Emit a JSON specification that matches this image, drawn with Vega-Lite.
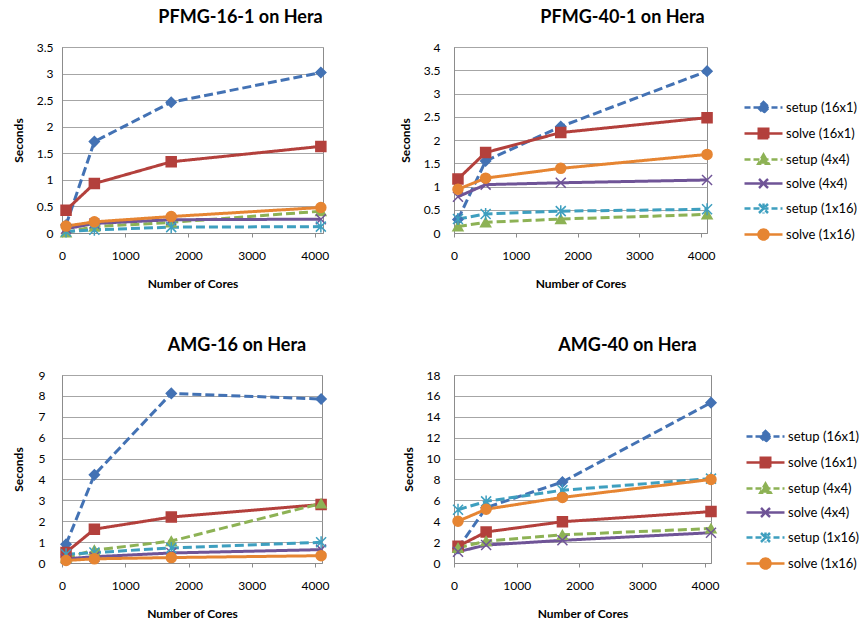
{
  "$schema": "https://vega.github.io/schema/vega-lite/v6.json",
  "background": "white",
  "padding": {"left": 11, "top": 8, "right": 0, "bottom": 2},
  "datasets": {
    "pfmg16": [
      {"cores": 64, "series": "setup (16x1)", "sec": 0.15},
      {"cores": 512, "series": "setup (16x1)", "sec": 1.72},
      {"cores": 1728, "series": "setup (16x1)", "sec": 2.46},
      {"cores": 4096, "series": "setup (16x1)", "sec": 3.02},
      {"cores": 64, "series": "solve (16x1)", "sec": 0.43},
      {"cores": 512, "series": "solve (16x1)", "sec": 0.93},
      {"cores": 1728, "series": "solve (16x1)", "sec": 1.34},
      {"cores": 4096, "series": "solve (16x1)", "sec": 1.63},
      {"cores": 64, "series": "setup (4x4)", "sec": 0.01},
      {"cores": 512, "series": "setup (4x4)", "sec": 0.12},
      {"cores": 1728, "series": "setup (4x4)", "sec": 0.2},
      {"cores": 4096, "series": "setup (4x4)", "sec": 0.41},
      {"cores": 64, "series": "solve (4x4)", "sec": 0.08},
      {"cores": 512, "series": "solve (4x4)", "sec": 0.18},
      {"cores": 1728, "series": "solve (4x4)", "sec": 0.25},
      {"cores": 4096, "series": "solve (4x4)", "sec": 0.26},
      {"cores": 64, "series": "setup (1x16)", "sec": 0.03},
      {"cores": 512, "series": "setup (1x16)", "sec": 0.06},
      {"cores": 1728, "series": "setup (1x16)", "sec": 0.11},
      {"cores": 4096, "series": "setup (1x16)", "sec": 0.12},
      {"cores": 64, "series": "solve (1x16)", "sec": 0.13},
      {"cores": 512, "series": "solve (1x16)", "sec": 0.21},
      {"cores": 1728, "series": "solve (1x16)", "sec": 0.31},
      {"cores": 4096, "series": "solve (1x16)", "sec": 0.48}
    ],
    "pfmg40": [
      {"cores": 64, "series": "setup (16x1)", "sec": 0.29},
      {"cores": 512, "series": "setup (16x1)", "sec": 1.55},
      {"cores": 1728, "series": "setup (16x1)", "sec": 2.29},
      {"cores": 4096, "series": "setup (16x1)", "sec": 3.48},
      {"cores": 64, "series": "solve (16x1)", "sec": 1.16},
      {"cores": 512, "series": "solve (16x1)", "sec": 1.73},
      {"cores": 1728, "series": "solve (16x1)", "sec": 2.16},
      {"cores": 4096, "series": "solve (16x1)", "sec": 2.48},
      {"cores": 64, "series": "setup (4x4)", "sec": 0.14},
      {"cores": 512, "series": "setup (4x4)", "sec": 0.23},
      {"cores": 1728, "series": "setup (4x4)", "sec": 0.3},
      {"cores": 4096, "series": "setup (4x4)", "sec": 0.4},
      {"cores": 64, "series": "solve (4x4)", "sec": 0.78},
      {"cores": 512, "series": "solve (4x4)", "sec": 1.04},
      {"cores": 1728, "series": "solve (4x4)", "sec": 1.08},
      {"cores": 4096, "series": "solve (4x4)", "sec": 1.14},
      {"cores": 64, "series": "setup (1x16)", "sec": 0.3},
      {"cores": 512, "series": "setup (1x16)", "sec": 0.41},
      {"cores": 1728, "series": "setup (1x16)", "sec": 0.47},
      {"cores": 4096, "series": "setup (1x16)", "sec": 0.51},
      {"cores": 64, "series": "solve (1x16)", "sec": 0.94},
      {"cores": 512, "series": "solve (1x16)", "sec": 1.18},
      {"cores": 1728, "series": "solve (1x16)", "sec": 1.39},
      {"cores": 4096, "series": "solve (1x16)", "sec": 1.69}
    ],
    "amg16": [
      {"cores": 64, "series": "setup (16x1)", "sec": 0.9},
      {"cores": 512, "series": "setup (16x1)", "sec": 4.22},
      {"cores": 1728, "series": "setup (16x1)", "sec": 8.12},
      {"cores": 4096, "series": "setup (16x1)", "sec": 7.85},
      {"cores": 64, "series": "solve (16x1)", "sec": 0.5},
      {"cores": 512, "series": "solve (16x1)", "sec": 1.62},
      {"cores": 1728, "series": "solve (16x1)", "sec": 2.2},
      {"cores": 4096, "series": "solve (16x1)", "sec": 2.8},
      {"cores": 64, "series": "setup (4x4)", "sec": 0.25},
      {"cores": 512, "series": "setup (4x4)", "sec": 0.62},
      {"cores": 1728, "series": "setup (4x4)", "sec": 1.05},
      {"cores": 4096, "series": "setup (4x4)", "sec": 2.85},
      {"cores": 64, "series": "solve (4x4)", "sec": 0.2},
      {"cores": 512, "series": "solve (4x4)", "sec": 0.3},
      {"cores": 1728, "series": "solve (4x4)", "sec": 0.48},
      {"cores": 4096, "series": "solve (4x4)", "sec": 0.64},
      {"cores": 64, "series": "setup (1x16)", "sec": 0.42},
      {"cores": 512, "series": "setup (1x16)", "sec": 0.5},
      {"cores": 1728, "series": "setup (1x16)", "sec": 0.72},
      {"cores": 4096, "series": "setup (1x16)", "sec": 0.99},
      {"cores": 64, "series": "solve (1x16)", "sec": 0.12},
      {"cores": 512, "series": "solve (1x16)", "sec": 0.2},
      {"cores": 1728, "series": "solve (1x16)", "sec": 0.26},
      {"cores": 4096, "series": "solve (1x16)", "sec": 0.35}
    ],
    "amg40": [
      {"cores": 64, "series": "setup (16x1)", "sec": 1.4},
      {"cores": 512, "series": "setup (16x1)", "sec": 5.3},
      {"cores": 1728, "series": "setup (16x1)", "sec": 7.76},
      {"cores": 4096, "series": "setup (16x1)", "sec": 15.35},
      {"cores": 64, "series": "solve (16x1)", "sec": 1.6},
      {"cores": 512, "series": "solve (16x1)", "sec": 2.97},
      {"cores": 1728, "series": "solve (16x1)", "sec": 3.95},
      {"cores": 4096, "series": "solve (16x1)", "sec": 4.92},
      {"cores": 64, "series": "setup (4x4)", "sec": 1.45},
      {"cores": 512, "series": "setup (4x4)", "sec": 2.1},
      {"cores": 1728, "series": "setup (4x4)", "sec": 2.7},
      {"cores": 4096, "series": "setup (4x4)", "sec": 3.3},
      {"cores": 64, "series": "solve (4x4)", "sec": 1.08},
      {"cores": 512, "series": "solve (4x4)", "sec": 1.72},
      {"cores": 1728, "series": "solve (4x4)", "sec": 2.17},
      {"cores": 4096, "series": "solve (4x4)", "sec": 2.9},
      {"cores": 64, "series": "setup (1x16)", "sec": 5.1},
      {"cores": 512, "series": "setup (1x16)", "sec": 5.9},
      {"cores": 1728, "series": "setup (1x16)", "sec": 6.97},
      {"cores": 4096, "series": "setup (1x16)", "sec": 8.08},
      {"cores": 64, "series": "solve (1x16)", "sec": 4.0},
      {"cores": 512, "series": "solve (1x16)", "sec": 5.15},
      {"cores": 1728, "series": "solve (1x16)", "sec": 6.28},
      {"cores": 4096, "series": "solve (1x16)", "sec": 8.0}
    ]
  },
  "vconcat": [
    {
      "spacing": 68,
      "hconcat": [
        {
          "width": 261, "height": 186,
          "title": {"text": "PFMG-16-1 on Hera", "dx": 48, "offset": 14},
          "data": {"name": "pfmg16"},
          "resolve": {"scale": {"stroke": "independent", "fill": "independent", "shape": "independent", "strokeDash": "independent"}},
          "encoding": {
            "x": {"field": "cores", "type": "quantitative", "title": "Number of Cores", "scale": {"domain": [0, 4130], "nice": false}, "axis": {"values": [0, 1000, 2000, 3000, 4000], "format": "d"}},
            "y": {"field": "sec", "type": "quantitative", "title": "Seconds", "scale": {"domain": [0, 3.5], "nice": false}, "axis": {"values": [0, 0.5, 1, 1.5, 2, 2.5, 3, 3.5], "format": "~g", "labelPadding": 9, "titlePadding": 11}}
          },
          "layer": [
            {
              "mark": {"type": "line", "strokeWidth": 3},
              "encoding": {
                "stroke": {"field": "series", "type": "nominal", "legend": null, "scale": {"domain": ["setup (16x1)", "solve (16x1)", "setup (4x4)", "solve (4x4)", "setup (1x16)", "solve (1x16)"], "range": ["#4372B4", "#B3403C", "#8DB255", "#6F5497", "#3E9FBF", "#E68532"]}},
                "strokeDash": {"field": "series", "type": "nominal", "legend": null, "scale": {"domain": ["setup (16x1)", "solve (16x1)", "setup (4x4)", "solve (4x4)", "setup (1x16)", "solve (1x16)"], "range": [[9, 4], [1, 0], [9, 4], [1, 0], [9, 4], [1, 0]]}}
              }
            },
            {
              "mark": {"type": "point", "filled": true, "opacity": 1, "strokeWidth": 1.5, "size": 100},
              "encoding": {
                "fill": {"field": "series", "type": "nominal", "legend": null, "scale": {"domain": ["setup (16x1)", "solve (16x1)", "setup (4x4)", "solve (4x4)", "setup (1x16)", "solve (1x16)"], "range": ["#4372B4", "#B3403C", "#8DB255", "#6F5497", "#3E9FBF", "#E68532"]}},
                "stroke": {"field": "series", "type": "nominal", "legend": null, "scale": {"domain": ["setup (16x1)", "solve (16x1)", "setup (4x4)", "solve (4x4)", "setup (1x16)", "solve (1x16)"], "range": ["#4372B4", "#B3403C", "#8DB255", "#6F5497", "#3E9FBF", "#E68532"]}},
                "shape": {"field": "series", "type": "nominal", "legend": null, "scale": {"domain": ["setup (16x1)", "solve (16x1)", "setup (4x4)", "solve (4x4)", "setup (1x16)", "solve (1x16)"], "range": ["diamond", "square", "triangle-up", "M-1,-1L1,1M-1,1L1,-1", "M-1,-1L1,1M-1,1L1,-1M0,-1.2V1.2", "circle"]}}
              }
            }
          ]
        },
        {
          "width": 253, "height": 186,
          "title": {"text": "PFMG-40-1 on Hera", "dx": 42, "offset": 14},
          "data": {"name": "pfmg40"},
          "resolve": {"scale": {"stroke": "independent", "fill": "independent", "shape": "independent", "strokeDash": "independent"}},
          "encoding": {
            "x": {"field": "cores", "type": "quantitative", "title": "Number of Cores", "scale": {"domain": [0, 4095], "nice": false}, "axis": {"values": [0, 1000, 2000, 3000, 4000], "format": "d"}},
            "y": {"field": "sec", "type": "quantitative", "title": "Seconds", "scale": {"domain": [0, 4], "nice": false}, "axis": {"values": [0, 0.5, 1, 1.5, 2, 2.5, 3, 3.5, 4], "format": "~g", "labelPadding": 14, "titlePadding": 11}}
          },
          "layer": [
            {
              "mark": {"type": "line", "strokeWidth": 3},
              "encoding": {
                "stroke": {"field": "series", "type": "nominal", "legend": null, "scale": {"domain": ["setup (16x1)", "solve (16x1)", "setup (4x4)", "solve (4x4)", "setup (1x16)", "solve (1x16)"], "range": ["#4372B4", "#B3403C", "#8DB255", "#6F5497", "#3E9FBF", "#E68532"]}},
                "strokeDash": {"field": "series", "type": "nominal", "legend": null, "scale": {"domain": ["setup (16x1)", "solve (16x1)", "setup (4x4)", "solve (4x4)", "setup (1x16)", "solve (1x16)"], "range": [[9, 4], [1, 0], [9, 4], [1, 0], [9, 4], [1, 0]]}}
              }
            },
            {
              "mark": {"type": "point", "filled": true, "opacity": 1, "strokeWidth": 1.5, "size": 100},
              "encoding": {
                "fill": {"field": "series", "type": "nominal", "legend": null, "scale": {"domain": ["setup (16x1)", "solve (16x1)", "setup (4x4)", "solve (4x4)", "setup (1x16)", "solve (1x16)"], "range": ["#4372B4", "#B3403C", "#8DB255", "#6F5497", "#3E9FBF", "#E68532"]}},
                "stroke": {"field": "series", "type": "nominal", "legend": null, "scale": {"domain": ["setup (16x1)", "solve (16x1)", "setup (4x4)", "solve (4x4)", "setup (1x16)", "solve (1x16)"], "range": ["#4372B4", "#B3403C", "#8DB255", "#6F5497", "#3E9FBF", "#E68532"]}},
                "shape": {"field": "series", "type": "nominal", "legend": null, "scale": {"domain": ["setup (16x1)", "solve (16x1)", "setup (4x4)", "solve (4x4)", "setup (1x16)", "solve (1x16)"], "range": ["diamond", "square", "triangle-up", "M-1,-1L1,1M-1,1L1,-1", "M-1,-1L1,1M-1,1L1,-1M0,-1.2V1.2", "circle"]}}
              }
            },
            {
              "transform": [{"filter": "false"}],
              "mark": {"type": "point", "filled": true, "opacity": 1, "strokeWidth": 2.5},
              "encoding": {
                "fill": {"field": "series", "type": "nominal", "legend": {"orient": "none", "legendX": 303, "legendY": 54}, "scale": {"domain": ["setup (16x1)", "solve (16x1)", "setup (4x4)", "solve (4x4)", "setup (1x16)", "solve (1x16)"], "range": ["#4372B4", "#B3403C", "#8DB255", "#6F5497", "#3E9FBF", "#E68532"]}},
                "stroke": {"field": "series", "type": "nominal", "legend": {"orient": "none", "legendX": 303, "legendY": 54}, "scale": {"domain": ["setup (16x1)", "solve (16x1)", "setup (4x4)", "solve (4x4)", "setup (1x16)", "solve (1x16)"], "range": ["#4372B4", "#B3403C", "#8DB255", "#6F5497", "#3E9FBF", "#E68532"]}},
                "strokeDash": {"field": "series", "type": "nominal", "legend": {"orient": "none", "legendX": 303, "legendY": 54}, "scale": {"domain": ["setup (16x1)", "solve (16x1)", "setup (4x4)", "solve (4x4)", "setup (1x16)", "solve (1x16)"], "range": [[6, 3], [1, 0], [6, 3], [1, 0], [6, 3], [1, 0]]}},
                "shape": {"field": "series", "type": "nominal", "legend": {"orient": "none", "legendX": 303, "legendY": 54}, "scale": {"domain": ["setup (16x1)", "solve (16x1)", "setup (4x4)", "solve (4x4)", "setup (1x16)", "solve (1x16)"], "range": ["M-3.8,0H3.8M0,-1.1L1.1,0L0,1.1L-1.1,0Z", "M-3.8,0H3.8M-0.95,-0.95H0.95V0.95H-0.95Z", "M-3.8,0H3.8M0,-1L1.05,0.85H-1.05Z", "M-3.8,0H3.8M-0.9,-0.9L0.9,0.9M-0.9,0.9L0.9,-0.9", "M-3.8,0H3.8M-0.9,-0.9L0.9,0.9M-0.9,0.9L0.9,-0.9M0,-1V1", "M-3.8,0H3.8M1,0A1,1,0,1,1,-1,0A1,1,0,1,1,1,0Z"]}}
              }
            }
          ]
        }
      ]
    },
    {
      "spacing": 71,
      "hconcat": [
        {
          "width": 260, "height": 188,
          "title": {"text": "AMG-16 on Hera", "dx": 45, "offset": 14},
          "data": {"name": "amg16"},
          "resolve": {"scale": {"stroke": "independent", "fill": "independent", "shape": "independent", "strokeDash": "independent"}},
          "encoding": {
            "x": {"field": "cores", "type": "quantitative", "title": "Number of Cores", "scale": {"domain": [0, 4110], "nice": false}, "axis": {"values": [0, 1000, 2000, 3000, 4000], "format": "d"}},
            "y": {"field": "sec", "type": "quantitative", "title": "Seconds", "scale": {"domain": [0, 9], "nice": false}, "axis": {"values": [0, 1, 2, 3, 4, 5, 6, 7, 8, 9], "format": "~g", "labelPadding": 17, "titlePadding": 13}}
          },
          "layer": [
            {
              "mark": {"type": "line", "strokeWidth": 3},
              "encoding": {
                "stroke": {"field": "series", "type": "nominal", "legend": null, "scale": {"domain": ["setup (16x1)", "solve (16x1)", "setup (4x4)", "solve (4x4)", "setup (1x16)", "solve (1x16)"], "range": ["#4372B4", "#B3403C", "#8DB255", "#6F5497", "#3E9FBF", "#E68532"]}},
                "strokeDash": {"field": "series", "type": "nominal", "legend": null, "scale": {"domain": ["setup (16x1)", "solve (16x1)", "setup (4x4)", "solve (4x4)", "setup (1x16)", "solve (1x16)"], "range": [[9, 4], [1, 0], [9, 4], [1, 0], [9, 4], [1, 0]]}}
              }
            },
            {
              "mark": {"type": "point", "filled": true, "opacity": 1, "strokeWidth": 1.5, "size": 100},
              "encoding": {
                "fill": {"field": "series", "type": "nominal", "legend": null, "scale": {"domain": ["setup (16x1)", "solve (16x1)", "setup (4x4)", "solve (4x4)", "setup (1x16)", "solve (1x16)"], "range": ["#4372B4", "#B3403C", "#8DB255", "#6F5497", "#3E9FBF", "#E68532"]}},
                "stroke": {"field": "series", "type": "nominal", "legend": null, "scale": {"domain": ["setup (16x1)", "solve (16x1)", "setup (4x4)", "solve (4x4)", "setup (1x16)", "solve (1x16)"], "range": ["#4372B4", "#B3403C", "#8DB255", "#6F5497", "#3E9FBF", "#E68532"]}},
                "shape": {"field": "series", "type": "nominal", "legend": null, "scale": {"domain": ["setup (16x1)", "solve (16x1)", "setup (4x4)", "solve (4x4)", "setup (1x16)", "solve (1x16)"], "range": ["diamond", "square", "triangle-up", "M-1,-1L1,1M-1,1L1,-1", "M-1,-1L1,1M-1,1L1,-1M0,-1.2V1.2", "circle"]}}
              }
            }
          ]
        },
        {
          "width": 257, "height": 188,
          "title": {"text": "AMG-40 on Hera", "dx": 45, "offset": 14},
          "data": {"name": "amg40"},
          "resolve": {"scale": {"stroke": "independent", "fill": "independent", "shape": "independent", "strokeDash": "independent"}},
          "encoding": {
            "x": {"field": "cores", "type": "quantitative", "title": "Number of Cores", "scale": {"domain": [0, 4096], "nice": false}, "axis": {"values": [0, 1000, 2000, 3000, 4000], "format": "d"}},
            "y": {"field": "sec", "type": "quantitative", "title": "Seconds", "scale": {"domain": [0, 18], "nice": false}, "axis": {"values": [0, 2, 4, 6, 8, 10, 12, 14, 16, 18], "format": "~g", "labelPadding": 14, "titlePadding": 11}}
          },
          "layer": [
            {
              "mark": {"type": "line", "strokeWidth": 3},
              "encoding": {
                "stroke": {"field": "series", "type": "nominal", "legend": null, "scale": {"domain": ["setup (16x1)", "solve (16x1)", "setup (4x4)", "solve (4x4)", "setup (1x16)", "solve (1x16)"], "range": ["#4372B4", "#B3403C", "#8DB255", "#6F5497", "#3E9FBF", "#E68532"]}},
                "strokeDash": {"field": "series", "type": "nominal", "legend": null, "scale": {"domain": ["setup (16x1)", "solve (16x1)", "setup (4x4)", "solve (4x4)", "setup (1x16)", "solve (1x16)"], "range": [[9, 4], [1, 0], [9, 4], [1, 0], [9, 4], [1, 0]]}}
              }
            },
            {
              "mark": {"type": "point", "filled": true, "opacity": 1, "strokeWidth": 1.5, "size": 100},
              "encoding": {
                "fill": {"field": "series", "type": "nominal", "legend": null, "scale": {"domain": ["setup (16x1)", "solve (16x1)", "setup (4x4)", "solve (4x4)", "setup (1x16)", "solve (1x16)"], "range": ["#4372B4", "#B3403C", "#8DB255", "#6F5497", "#3E9FBF", "#E68532"]}},
                "stroke": {"field": "series", "type": "nominal", "legend": null, "scale": {"domain": ["setup (16x1)", "solve (16x1)", "setup (4x4)", "solve (4x4)", "setup (1x16)", "solve (1x16)"], "range": ["#4372B4", "#B3403C", "#8DB255", "#6F5497", "#3E9FBF", "#E68532"]}},
                "shape": {"field": "series", "type": "nominal", "legend": null, "scale": {"domain": ["setup (16x1)", "solve (16x1)", "setup (4x4)", "solve (4x4)", "setup (1x16)", "solve (1x16)"], "range": ["diamond", "square", "triangle-up", "M-1,-1L1,1M-1,1L1,-1", "M-1,-1L1,1M-1,1L1,-1M0,-1.2V1.2", "circle"]}}
              }
            },
            {
              "transform": [{"filter": "false"}],
              "mark": {"type": "point", "filled": true, "opacity": 1, "strokeWidth": 2.5},
              "encoding": {
                "fill": {"field": "series", "type": "nominal", "legend": {"orient": "none", "legendX": 305, "legendY": 55}, "scale": {"domain": ["setup (16x1)", "solve (16x1)", "setup (4x4)", "solve (4x4)", "setup (1x16)", "solve (1x16)"], "range": ["#4372B4", "#B3403C", "#8DB255", "#6F5497", "#3E9FBF", "#E68532"]}},
                "stroke": {"field": "series", "type": "nominal", "legend": {"orient": "none", "legendX": 305, "legendY": 55}, "scale": {"domain": ["setup (16x1)", "solve (16x1)", "setup (4x4)", "solve (4x4)", "setup (1x16)", "solve (1x16)"], "range": ["#4372B4", "#B3403C", "#8DB255", "#6F5497", "#3E9FBF", "#E68532"]}},
                "strokeDash": {"field": "series", "type": "nominal", "legend": {"orient": "none", "legendX": 305, "legendY": 55}, "scale": {"domain": ["setup (16x1)", "solve (16x1)", "setup (4x4)", "solve (4x4)", "setup (1x16)", "solve (1x16)"], "range": [[6, 3], [1, 0], [6, 3], [1, 0], [6, 3], [1, 0]]}},
                "shape": {"field": "series", "type": "nominal", "legend": {"orient": "none", "legendX": 305, "legendY": 55}, "scale": {"domain": ["setup (16x1)", "solve (16x1)", "setup (4x4)", "solve (4x4)", "setup (1x16)", "solve (1x16)"], "range": ["M-3.8,0H3.8M0,-1.1L1.1,0L0,1.1L-1.1,0Z", "M-3.8,0H3.8M-0.95,-0.95H0.95V0.95H-0.95Z", "M-3.8,0H3.8M0,-1L1.05,0.85H-1.05Z", "M-3.8,0H3.8M-0.9,-0.9L0.9,0.9M-0.9,0.9L0.9,-0.9", "M-3.8,0H3.8M-0.9,-0.9L0.9,0.9M-0.9,0.9L0.9,-0.9M0,-1V1", "M-3.8,0H3.8M1,0A1,1,0,1,1,-1,0A1,1,0,1,1,1,0Z"]}}
              }
            }
          ]
        }
      ]
    }
  ],
  "spacing": 46,
  "config": {
    "font": "Lato",
    "view": {"stroke": "#8c8c8c", "strokeWidth": 1},
    "axis": {"labelFont": "Lato", "labelFontSize": 12, "labelColor": "#000000", "titleFont": "Lato", "titleFontSize": 12, "titleFontWeight": "bold", "titleColor": "#000000", "domainColor": "#8c8c8c", "tickColor": "#8c8c8c", "gridColor": "#a6a6a6", "labelFlush": false, "labelOverlap": false},
    "axisX": {"grid": false, "tickSize": 4, "labelPadding": 13, "titlePadding": 17},
    "axisY": {"grid": true, "ticks": false},
    "legend": {"title": null, "labelFont": "Lato", "labelFontSize": 13, "labelColor": "#000000", "symbolSize": 100, "symbolStrokeWidth": 2.5, "labelOffset": 16, "rowPadding": 5, "padding": 0, "symbolOpacity": 1},
    "title": {"font": "Lato", "fontSize": 18, "fontWeight": "bold", "color": "#000000", "anchor": "middle", "frame": "group", "baseline": "alphabetic"}
  }
}
